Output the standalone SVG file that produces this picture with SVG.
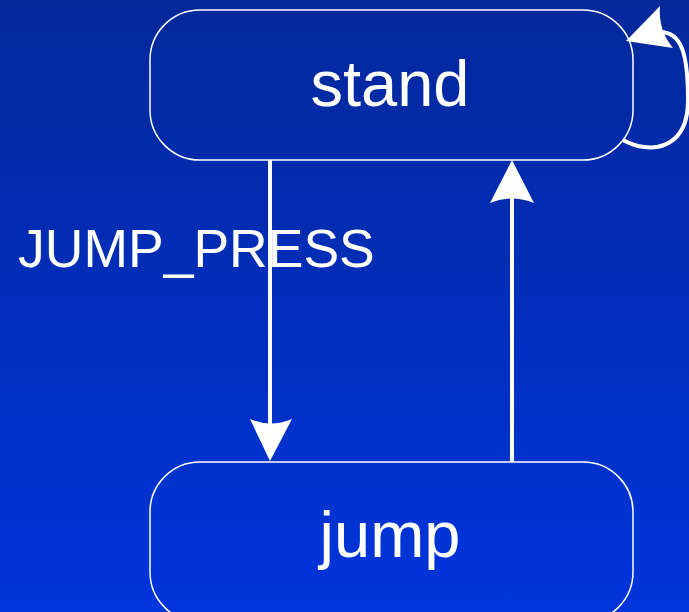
<svg xmlns="http://www.w3.org/2000/svg" width="689" height="612" viewBox="0 0 689 612">
<defs>
<linearGradient id="bg" x1="0" y1="0" x2="0" y2="1">
<stop offset="0" stop-color="#03289a"/>
<stop offset="1" stop-color="#0035dc"/>
</linearGradient>
<style>
.node rect{fill:none;stroke:#ffffff;stroke-width:1.5}
.node text{font-family:"Liberation Sans",Arial,sans-serif;font-size:65px;fill:#ffffff;text-anchor:middle}
.edge{fill:none;stroke:#ffffff;stroke-width:4}
.head{fill:#ffffff;stroke:none}
.label{font-family:"Liberation Sans",Arial,sans-serif;font-size:53.5px;fill:#ffffff}
</style>
</defs>
<rect x="0" y="0" width="689" height="612" fill="url(#bg)"/>
<g id="connectors">
<path class="edge" d="M270,160 L270,425"/>
<path class="head" d="M270,461 L250,419 Q270,428 292,419 Z"/>
<path class="edge" d="M512,462 L512,196"/>
<path class="head" d="M512,160 L490,203 Q512,194 534,203 Z"/>
<path class="edge" d="M623,140 C650,155 688,150 688,100 C688,55 682,32 660,32"/>
<path class="head" d="M626,41 L660,6 Q658,30 673,48 Z"/>
<text class="label" x="18" y="267">JUMP_PRESS</text>
</g>
<g id="node-stand" class="node">
<rect x="150" y="10" width="483" height="150" rx="50" ry="50"/>
<text x="390" y="106">stand</text>
</g>
<g id="node-jump" class="node">
<rect x="150" y="462" width="483" height="160" rx="50" ry="50"/>
<text x="390" y="557">jump</text>
</g>
</svg>
